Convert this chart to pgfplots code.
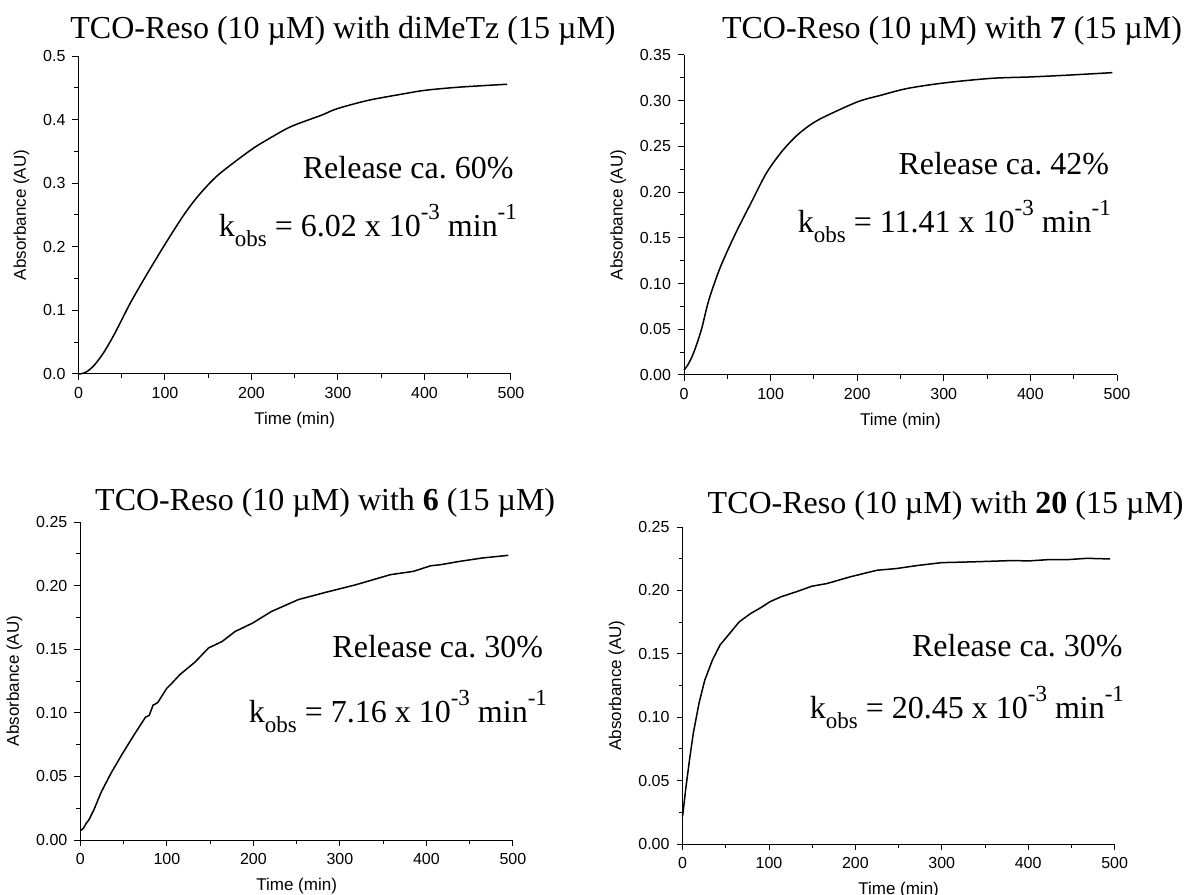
\documentclass[border=0pt]{standalone}
\usepackage{fontspec}
\setmainfont{Liberation Serif}
\setsansfont{Liberation Sans}
\usepackage{pgfplots}
\pgfplotsset{compat=1.18}
\frenchspacing

\newcommand{\sups}[1]{\raisebox{8.5pt}{\fontsize{11.5}{11.5}\selectfont #1}}
\newcommand{\subs}[1]{\raisebox{-5pt}{\fontsize{11.5}{11.5}\selectfont #1}}
\newcommand{\annfont}{\fontsize{16}{18}\selectfont}

\pgfplotsset{
  panel/.style={
    scale only axis, width=216.25pt, height=159pt,
    xmin=0, xmax=500, ymin=0,
    axis x line*=bottom, axis y line*=left, axis line style={-, line width=0.5pt},
    xtick={0,100,...,500}, minor x tick num=1, minor y tick num=1,
    tick align=outside, major tick length=3pt, minor tick length=2pt,
    tick style={black, line width=0.5pt},
    ticklabel style={font=\sffamily\fontsize{8}{9}\selectfont},
    label style={font=\sffamily\fontsize{8.5}{10}\selectfont},
    xlabel={Time (min)}, ylabel={Absorbance (AU)},
    /pgf/number format/assume math mode=true,
    yticklabel style={/pgf/number format/.cd, fixed, fixed zerofill, precision=2},
    clip=false,
  },
  curve/.style={black, line width=0.75pt, no markers},
}

\begin{document}
\begin{tikzpicture}
\useasboundingbox (0,0) rectangle (595pt,447.5pt);

% Panel 1
\begin{axis}[panel, at={(39.25pt,260.5pt)}, anchor=south west, ymax=0.5,
  ytick={0,0.1,...,0.5},
  yticklabel style={/pgf/number format/precision=1}]
\addplot[curve, smooth] coordinates {
(0,0) (5,0.001) (10,0.004) (17.7,0.013) (28.8,0.033) (42,0.064) (59.7,0.111)
(77.4,0.153) (99.6,0.203) (121.7,0.25) (139,0.281) (161.5,0.313) (199,0.352)
(219,0.369) (245.6,0.389) (281,0.407) (298.7,0.417) (334,0.430) (369.5,0.439)
(400.4,0.446) (440,0.451) (495.6,0.4556)};
\node[anchor=base, font=\fontsize{16}{18}\selectfont] at (rel axis cs:0.6116,1) [yshift=9pt] {TCO-Reso (10 µM) with diMeTz (15 µM)};
\node[anchor=base east, font=\annfont] at (rel axis cs:1.022,0.616) {Release ca. 60\%};
\node[anchor=base east, font=\annfont] at (rel axis cs:1.03,0.431) {k\subs{obs} = 6.02 x 10\sups{-3} min\sups{-1}};
\end{axis}

% Panel 2
\begin{axis}[panel, at={(342pt,260pt)}, anchor=south west, width=216.5pt, height=160pt, ymax=0.35,
  ytick={0,0.05,...,0.351}]
\addplot[curve, smooth] coordinates {
(0,0.0055) (4.4,0.011) (11,0.024) (19.9,0.049) (28.7,0.082) (42,0.118)
(59.6,0.155) (77.3,0.188) (95,0.2206) (112.6,0.244) (130.3,0.262) (148,0.275)
(165.6,0.284) (201,0.299) (227.5,0.306) (258.4,0.3135) (302.6,0.3197)
(355.6,0.3245) (399.7,0.326) (444,0.328) (494.7,0.3307)};
\node[anchor=base, font=\fontsize{16}{18}\selectfont] at (rel axis cs:0.619,1) [yshift=8pt] {TCO-Reso (10 µM) with \textbf{7} (15 µM)};
\node[anchor=base east, font=\annfont] at (rel axis cs:0.998,0.625) {Release ca. 42\%};
\node[anchor=base east, font=\annfont] at (rel axis cs:1.002,0.444) {k\subs{obs} = 11.41 x 10\sups{-3} min\sups{-1}};
\end{axis}

% Panel 3
\begin{axis}[panel, at={(40.2pt,27.5pt)}, anchor=south west, ymax=0.25,
  ytick={0,0.05,...,0.251}]
\addplot[curve] coordinates {
(0,0.0073) (3.5,0.0092) (6.6,0.013) (9.7,0.0157) (15.5,0.0236) (24.3,0.038)
(35.4,0.0525) (48.7,0.068) (62,0.0826) (75.2,0.0965) (79.6,0.098) (84,0.106)
(89.4,0.108) (99.6,0.119) (104,0.122) (115,0.13) (132.7,0.140) (148.2,0.151)
(163.7,0.156) (179,0.164) (199,0.1705) (221,0.1797) (252,0.189) (283,0.1946)
(318.6,0.2007) (358.4,0.2086) (385,0.2112) (405,0.2156) (416,0.2164)
(438,0.219) (464.6,0.2217) (494.7,0.2238)};
\node[anchor=base, font=\fontsize{16}{18}\selectfont] at (rel axis cs:0.566,1) [yshift=6pt] {TCO-Reso (10 µM) with \textbf{6} (15 µM)};
\node[anchor=base east, font=\annfont] at (rel axis cs:1.086,0.575) {Release ca. 30\%};
\node[anchor=base east, font=\annfont] at (rel axis cs:1.095,0.368) {k\subs{obs} = 7.16 x 10\sups{-3} min\sups{-1}};
\end{axis}

% Panel 4
\begin{axis}[panel, at={(341.3pt,25.5pt)}, anchor=south west, width=216pt, height=158.5pt, ymax=0.25,
  ytick={0,0.05,...,0.251}]
\addplot[curve] coordinates {
(0,0.0218) (1.3,0.0296) (3.5,0.0428) (8,0.0664) (12.4,0.0874) (19,0.111)
(25.7,0.1293) (34.5,0.145) (43.4,0.157) (54.4,0.166) (65.5,0.1752) (78.8,0.1818)
(92,0.187) (100.9,0.191) (114,0.195) (132,0.199) (149.6,0.2033) (167,0.2054)
(194,0.2107) (225,0.2159) (247,0.2172) (273.5,0.2198) (300,0.2219) (335,0.2225)
(379.6,0.2235) (401.8,0.2233) (424,0.2243) (446,0.2243) (468,0.2253) (494.7,0.2248)};
\node[anchor=base, font=\fontsize{16}{18}\selectfont] at (rel axis cs:0.609,1) [yshift=7pt] {TCO-Reso (10 µM) with \textbf{20} (15 µM)};
\node[anchor=base east, font=\annfont] at (rel axis cs:1.035,0.59) {Release ca. 30\%};
\node[anchor=base east, font=\annfont] at (rel axis cs:1.038,0.397) {k\subs{obs} = 20.45 x 10\sups{-3} min\sups{-1}};
\end{axis}
\end{tikzpicture}
\end{document}
